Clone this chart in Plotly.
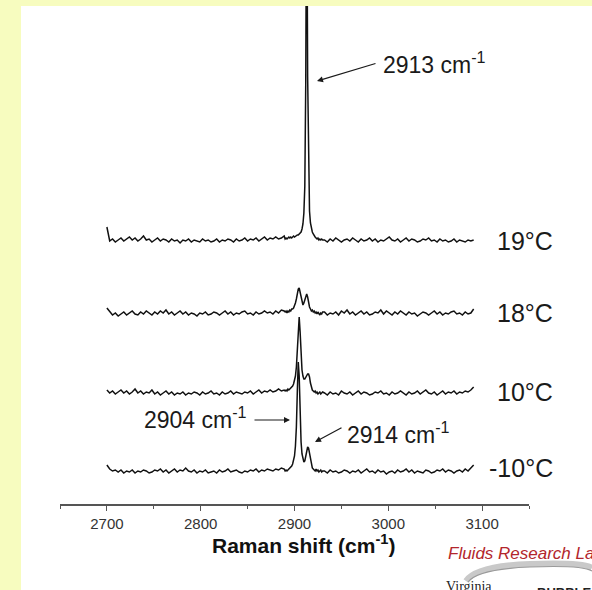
import plotly.graph_objects as go

# Raman shift sampling (cm^-1): 3 cm^-1 over the flat baseline, 1 cm^-1 across the C-H band
shift_left = list(range(2700, 2890, 3))
shift_band = list(range(2890, 2931, 1))
shift_right = list(range(2932, 3093, 3))
raman_shift = shift_left + shift_band + shift_right

temperatures = ["19°C", "18°C", "10°C", "-10°C"]
stack_offsets = [263, 190, 110, 32]
label_nudge = [0, 1, 2, 4]

# Spectra (arbitrary intensity units), baseline | band | baseline
intensity_19C = (
    [14, 0, 2, -1, 1, 3, 0, 2, 4, 1, 3, 0, 2, 5, 1, 2,
     -1, 1, 3, 0, 2, 1, -1, 2, 0, 1, -2, 1, 0, 2, -1, 1,
     0, -1, 2, 0, 1, -1, 0, 2, -1, 1, 0, 2, 1, -1, 2, 0,
     1, 3, 0, 2, 1, 3, 0, 2, 4, 1, 3, 2, 4, 2, 3, 5]
    + [2, 3, 2, 3, 4, 3, 4, 3, 4, 5,
       4, 5, 5, 6, 6, 7, 8, 9, 12, 17,
       28, 55, 160, 400, 165, 58, 30, 18, 12, 9,
       7, 5, 4, 3, 2, 3, 1, 2, 1, 2,
       1]
    + [1, -1, 2, 0, 3, 1, -1, 1, 2, 0, 3, 1, -1, 2, 0, 1,
       3, 0, 2, -1, 1, 0, 2, 4, 1, 0, 2, -1, 1, 3, 0, 2,
       1, -1, 0, 2, 1, 3, 0, 1, -1, 2, 0, 1, -1, 0, 2, -1,
       1, 0, -1, 1, 0, 1]
)
intensity_18C = (
    [6, 2, -1, 1, -2, 0, 2, -1, 1, 3, 0, -1, 2, 0, 3, 1,
     -1, 2, 0, 3, 1, 4, 0, 2, -1, 1, 3, 0, 2, -1, 1, 0,
     -2, 1, 0, 2, -1, 0, 2, 1, -1, 1, 3, 0, 2, -1, 1, 0,
     2, 3, 0, 1, -1, 2, 0, 1, 3, 1, 2, 0, 3, 1, 4, 3]
    + [2, 3, 1, 3, 2, 4, 3, 5, 5, 6,
       8, 11, 15, 21, 25, 26, 22, 15, 11, 9,
       11, 15, 19, 20, 17, 11, 7, 5, 3, 4,
       2, 3, 1, 2, 0, 2, 1, -1, 1, 0,
       2]
    + [2, -1, 1, 0, 2, -1, 3, 1, 4, 0, 2, -1, 1, 3, 0, 2,
       -1, 0, 2, 1, 4, 0, 3, 1, -1, 2, 0, 3, 1, -1, 2, 0,
       1, -2, 0, 2, 1, -1, 1, 3, 0, 2, -1, 1, 0, 2, 3, 0,
       1, -1, 2, 0, 1, 5]
)
intensity_10C = (
    [4, 1, 3, 0, 2, 4, 1, 3, 0, 2, 5, 1, 3, 0, 2, 1,
     4, 0, 2, -1, 1, 3, 0, 2, -1, 1, 0, 2, -1, 1, 0, 2,
     1, -1, 2, 0, 1, 3, 0, 1, -1, 2, 0, 1, 3, 0, 2, 1,
     0, 2, 1, 3, 0, 2, 4, 1, 3, 2, 4, 2, 3, 5, 3, 4]
    + [3, 4, 3, 5, 4, 5, 6, 6, 8, 10,
       13, 18, 27, 45, 70, 77, 62, 38, 24, 18,
       15, 15, 17, 19, 20, 20, 17, 11, 6, 4,
       3, 2, 3, 1, 2, 0, 1, 2, 0, 1,
       2]
    + [1, -1, 2, 0, 1, -1, 3, 1, 0, 2, -1, 1, 3, 0, 2, 1,
       -1, 0, 2, 1, 3, 0, 1, -1, 2, 0, 1, 3, 1, -1, 2, 0,
       1, 3, 0, 2, 4, 1, 0, 2, -1, 1, 3, 0, 2, 1, 3, 0,
       2, 1, 3, 2, 4, 7]
)
intensity_m10C = (
    [7, 3, 1, 2, 0, 2, -1, 1, 0, 2, -1, 1, 0, 2, 1, -1,
     0, 2, 1, 3, 0, 2, -1, 1, 3, 0, 2, 1, 4, 1, 0, 2,
     -1, 1, 0, 2, -1, 0, 1, -1, 2, 0, 1, 3, 0, 1, 2, 0,
     -1, 1, 0, 2, 1, 3, 0, 2, 1, 3, 2, 1, 3, 2, 4, 3]
    + [1, 2, 1, 2, 2, 3, 4, 6, 8, 11,
       16, 26, 45, 80, 110, 96, 55, 30, 18, 12,
       10, 11, 15, 22, 25, 24, 19, 12, 7, 4,
       3, 2, 1, 3, 1, 2, 0, 1, 2, 0,
       1]
    + [1, -1, 2, 0, 1, -1, 0, 2, 1, -1, 1, 0, 2, -1, 1, 3,
       0, 1, -1, 2, 0, 1, -2, 0, 1, -1, 2, 0, 1, 3, 0, 2,
       -1, 1, 0, -1, 2, 1, -1, 0, 2, 1, 3, 0, 2, 1, -1, 1,
       2, 0, 3, 1, 4, 7]
)
spectra = [intensity_19C, intensity_18C, intensity_10C, intensity_m10C]
for s in spectra:
    assert len(s) == len(raman_shift), len(s)

peak_labels = ["2913 cm<sup>-1</sup>", "2904 cm<sup>-1</sup>", "2914 cm<sup>-1</sup>"]

FONT = "Liberation Sans, Arial, sans-serif"
X0, X1 = 2650, 3150
PLOT_L, PLOT_R, PLOT_T, PLOT_B = 60, 529, 6, 504
W, H = 592, 590


def px_to_paper(px, py):
    return ((px - PLOT_L) / (PLOT_R - PLOT_L), (PLOT_B - py) / (PLOT_B - PLOT_T))


def px_to_x(px):
    return X0 + (px - PLOT_L) * (X1 - X0) / (PLOT_R - PLOT_L)


def px_to_y(py):
    return PLOT_B - py


fig = go.Figure()
for spec, off in zip(spectra, stack_offsets):
    fig.add_trace(go.Scatter(
        x=raman_shift, y=[v + off for v in spec], mode="lines",
        line=dict(color="#111111", width=1.5), hoverinfo="skip",
    ))

annotations = []
# temperature labels at the right of each spectrum
label_x = px_to_paper(555, 0)[0]
for name, off, nudge in zip(temperatures, stack_offsets, label_nudge):
    annotations.append(dict(
        x=label_x, y=off + nudge, xref="paper", yref="y", text=name,
        showarrow=False, xanchor="right", yanchor="middle",
        font=dict(family=FONT, size=25, color="#1a1a1a"),
    ))

# peak position labels and arrows
label_font = dict(family=FONT, size=23, color="#1a1a1a")
annotations += [
    dict(x=px_to_x(381), y=px_to_y(63), text=peak_labels[0], showarrow=False,
         xanchor="left", yanchor="middle", font=label_font),
    dict(x=px_to_x(249), y=px_to_y(418), text=peak_labels[1], showarrow=False,
         xanchor="right", yanchor="middle", font=label_font),
    dict(x=px_to_x(345), y=px_to_y(433), text=peak_labels[2], showarrow=False,
         xanchor="left", yanchor="middle", font=label_font),
]
for hx, hy, tx, ty in [(317, 81, 377, 63), (290, 420, 253, 420), (315, 442, 343, 427)]:
    annotations.append(dict(
        x=px_to_x(hx), y=px_to_y(hy), xref="x", yref="y",
        ax=tx - hx, ay=ty - hy, text="", showarrow=True,
        arrowhead=2, arrowsize=1.0, arrowwidth=1.2, arrowcolor="#1a1a1a",
        standoff=0, startstandoff=0,
    ))

# axis title
tx, ty = px_to_paper(303.5, 544)
annotations.append(dict(
    x=tx, y=ty, xref="paper", yref="paper", text="<b>Raman shift (cm<sup>-1</sup>)</b>",
    showarrow=False, xanchor="center", yanchor="middle",
    font=dict(family=FONT, size=21, color="#111111"),
))

# lab logo lettering in the corner
lx, ly = px_to_paper(446, 553)
annotations.append(dict(
    x=lx, y=ly, xref="paper", yref="paper", text="<i>Fluids Research Lab</i>",
    showarrow=False, xanchor="left", yanchor="middle",
    font=dict(family=FONT, size=17, color="#b3262c"),
))
vx, vy = px_to_paper(444, 586)
annotations.append(dict(
    x=vx, y=vy, xref="paper", yref="paper", text="Virginia",
    showarrow=False, xanchor="left", yanchor="middle",
    font=dict(family="Liberation Serif, serif", size=14, color="#222222"),
))
bx, by = px_to_paper(535, 592)
annotations.append(dict(
    x=bx, y=by, xref="paper", yref="paper", text="<b>BUBBLE</b>",
    showarrow=False, xanchor="left", yanchor="middle",
    font=dict(family=FONT, size=13, color="#222222"),
))

# white panel over the page background
p0 = px_to_paper(21, PLOT_T)
p1 = px_to_paper(W + 10, H + 10)
shapes = [dict(type="rect", xref="paper", yref="paper", x0=p0[0], x1=p1[0],
               y0=p1[1], y1=p0[1], fillcolor="white", line=dict(width=0), layer="below")]

# grey swoosh of the logo
for pts, col, wid in [
    ([(466, 581), (476, 566), (530, 564), (592, 568)], "#c9c9c9", 6),
    ([(468, 582), (478, 569), (530, 567), (592, 571)], "#9a9a9a", 1.2),
]:
    pp = [px_to_paper(*p) for p in pts]
    path = (f"M {pp[0][0]},{pp[0][1]} Q {pp[1][0]},{pp[1][1]} "
            f"{pp[2][0]},{pp[2][1]} T {pp[3][0]},{pp[3][1]}")
    shapes.append(dict(type="path", xref="paper", yref="paper", path=path,
                       line=dict(color=col, width=wid), layer="below"))

fig.update_layout(
    width=W, height=H,
    margin=dict(l=PLOT_L, r=W - PLOT_R, t=PLOT_T, b=H - PLOT_B),
    paper_bgcolor="#f7fcbf", plot_bgcolor="white",
    showlegend=False,
    annotations=annotations, shapes=shapes,
    xaxis=dict(
        range=[X0, X1], tickvals=[2700, 2800, 2900, 3000, 3100],
        ticks="outside", ticklen=5, tickwidth=1.3, tickcolor="#555555",
        showline=True, linecolor="#555555", linewidth=1.5,
        showgrid=False, zeroline=False,
        tickfont=dict(family=FONT, size=15, color="#333333"),
        minor=dict(tickvals=[2650, 2750, 2850, 2950, 3050, 3150], ticks="outside",
                   ticklen=3, tickwidth=1.2, tickcolor="#555555", showgrid=False),
        fixedrange=True,
    ),
    yaxis=dict(range=[0, PLOT_B - PLOT_T], visible=False, fixedrange=True),
)

fig.write_html("out.html")
